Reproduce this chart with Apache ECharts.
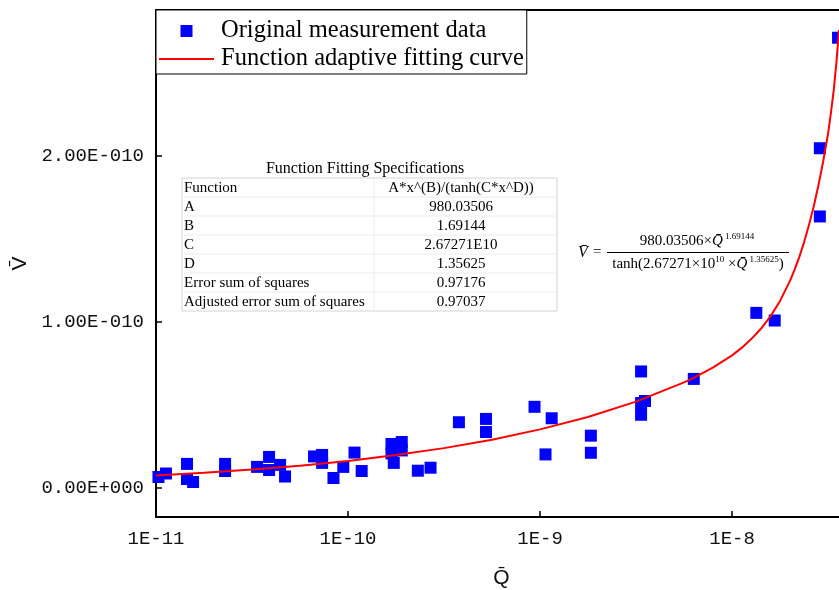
<!DOCTYPE html>
<html>
<head>
<meta charset="utf-8">
<script src="https://cdn.jsdelivr.net/npm/echarts@6/dist/echarts.min.js"></script>
<style>
html,body{margin:0;padding:0;background:#fff;}
#chart{width:839px;height:590px;}
</style>
</head>
<body>
<div id="chart"></div>
<script>
// Measured points (Q̄, V̄)
const measQ = [1.03e-11, 1.127e-11, 1.45e-11, 1.45e-11, 1.56e-11, 2.29e-11, 2.29e-11, 3.36e-11, 3.88e-11, 3.88e-11,
  4.43e-11, 4.70e-11, 6.65e-11, 7.33e-11, 7.33e-11, 8.4e-11, 9.45e-11, 1.081e-10, 1.178e-10, 1.684e-10,
  1.684e-10, 1.905e-10, 1.905e-10, 1.731e-10, 2.31e-10, 2.69e-10, 3.78e-10, 5.23e-10, 5.23e-10, 9.36e-10,
  1.15e-9, 1.068e-9, 1.84e-9, 1.84e-9, 3.36e-9, 3.36e-9, 3.52e-9, 3.36e-9, 6.32e-9, 1.338e-8,
  1.668e-8, 2.866e-8, 2.866e-8, 3.565e-8];
const measV = [6.6e-12, 8.7e-12, 1.45e-11, 5.4e-12, 3.6e-12, 1.45e-11, 1.02e-11, 1.27e-11, 1.87e-11, 1.08e-11,
  1.39e-11, 6.9e-12, 1.9e-11, 1.99e-11, 1.51e-11, 6.0e-12, 1.27e-11, 2.13e-11, 1.02e-11, 2.65e-11,
  2.08e-11, 2.77e-11, 2.26e-11, 1.51e-11, 1.04e-11, 1.22e-11, 3.96e-11, 4.16e-11, 3.37e-11, 4.89e-11,
  4.2e-11, 2.02e-11, 3.15e-11, 2.12e-11, 7.02e-11, 5.12e-11, 5.24e-11, 4.41e-11, 6.57e-11, 1.055e-10,
  1.009e-10, 2.047e-10, 1.636e-10, 2.713e-10];

// Fitted curve
const curveQ = [1e-11, 1.778e-11, 3.162e-11, 5.623e-11, 1e-10, 1.778e-10, 3.162e-10, 5.623e-10, 1e-9, 1.778e-9,
  3.162e-9, 5.623e-9, 6.31e-9, 7.943e-9, 1e-8, 1.122e-8, 1.259e-8, 1.413e-8, 1.585e-8, 1.778e-8,
  1.995e-8, 2.113e-8, 2.239e-8, 2.371e-8, 2.512e-8, 2.661e-8, 2.818e-8, 2.985e-8, 3.162e-8, 3.273e-8,
  3.388e-8, 3.50e-8, 3.606e-8];
const curveV = [7.54e-12, 9.15e-12, 1.108e-11, 1.345e-11, 1.63e-11, 1.98e-11, 2.40e-11, 2.91e-11, 3.53e-11, 4.28e-11,
  5.20e-11, 6.36e-11, 6.63e-11, 7.25e-11, 7.99e-11, 8.44e-11, 8.97e-11, 9.59e-11, 1.034e-10, 1.127e-10,
  1.243e-10, 1.313e-10, 1.391e-10, 1.48e-10, 1.581e-10, 1.694e-10, 1.824e-10, 1.969e-10, 2.134e-10, 2.26e-10,
  2.40e-10, 2.57e-10, 2.76e-10];

// Ticks
const xTickValues = [1e-11, 1e-10, 1e-9, 1e-8];
const xTickLabels = ['1E-11', '1E-10', '1E-9', '1E-8'];
const yTickValues = [0, 1e-10, 2e-10];
const yTickLabels = ['0.00E+000', '1.00E-010', '2.00E-010'];

// Table text
const tableTitle = 'Function Fitting Specifications';
const tableNames = ['Function', 'A', 'B', 'C', 'D', 'Error sum of squares', 'Adjusted error sum of squares'];
const tableValues = ['A*x^(B)/(tanh(C*x^D))', '980.03506', '1.69144', '2.67271E10', '1.35625', '0.97176', '0.97037'];

const seriesNames = ['Original measurement data', 'Function adaptive fitting curve'];

const chart = echarts.init(document.getElementById('chart'), null, {renderer: 'canvas'});

const tblL = 182, tblR = 557, tblMid = 374, tblTop = 178, rowH = 19;
const graphics = [];
graphics.push({type: 'text', style: {text: tableTitle, x: 365, y: 169, align: 'center', verticalAlign: 'middle',
  font: '16px "Liberation Serif"', fill: '#000'}});
graphics.push({type: 'rect', shape: {x: tblL, y: tblTop, width: tblR - tblL, height: rowH * tableNames.length},
  style: {fill: 'none', stroke: '#d4d4d4', lineWidth: 1}});
for (let i = 1; i < tableNames.length; i++) {
  graphics.push({type: 'line', shape: {x1: tblL, y1: tblTop + rowH * i, x2: tblR, y2: tblTop + rowH * i},
    style: {stroke: '#ececec', lineWidth: 1}});
}
graphics.push({type: 'line', shape: {x1: tblMid, y1: tblTop, x2: tblMid, y2: tblTop + rowH * tableNames.length},
  style: {stroke: '#ececec', lineWidth: 1}});
tableNames.forEach((n, i) => {
  graphics.push({type: 'text', style: {text: n, x: tblL + 2, y: tblTop + rowH * i + rowH / 2 + 1, align: 'left', verticalAlign: 'middle',
    font: '15px "Liberation Serif"', fill: '#000'}});
  graphics.push({type: 'text', style: {text: tableValues[i], x: 461, y: tblTop + rowH * i + rowH / 2 + 1, align: 'center', verticalAlign: 'middle',
    font: '15px "Liberation Serif"', fill: '#000'}});
});
// Formula
const fRich = {
  q: {fontFamily: 'Liberation Serif', fontSize: 15, fontStyle: 'italic', color: '#000'},
  s: {fontFamily: 'Liberation Serif', fontSize: 9, verticalAlign: 'top', color: '#000', padding: [0, 0, 8, 0]},
  n: {fontFamily: 'Liberation Serif', fontSize: 15, color: '#000'}
};
graphics.push({type: 'text', style: {text: 'V\u0304', x: 578, y: 253, align: 'left', verticalAlign: 'middle',
  font: 'italic 16px "Liberation Serif"', fill: '#000'}});
graphics.push({type: 'text', style: {text: '=', x: 593, y: 252, align: 'left', verticalAlign: 'middle',
  font: '15px "Liberation Serif"', fill: '#000'}});
graphics.push({type: 'line', shape: {x1: 607, y1: 252.5, x2: 789, y2: 252.5}, style: {stroke: '#000', lineWidth: 1}});
graphics.push({type: 'text', style: {text: '{n|980.03506\u00d7}{q|Q\u0304}{s| 1.69144}', rich: fRich, x: 697, y: 241,
  align: 'center', verticalAlign: 'middle', font: '15px "Liberation Serif"', fill: '#000'}});
graphics.push({type: 'text', style: {text: '{n|tanh(2.67271\u00d710}{s|10}{n| \u00d7}{q|Q\u0304}{s| 1.35625}{n|)}', rich: fRich, x: 698, y: 264,
  align: 'center', verticalAlign: 'middle', font: '15px "Liberation Serif"', fill: '#000'}});

const option = {
  animation: false,
  backgroundColor: '#ffffff',
  grid: {left: 156, right: 0, top: 10, bottom: 73, containLabel: false, outerBoundsMode: 'none'},
  legend: {
    orient: 'vertical', left: 156, top: 10,
    padding: [8, 3, 2, 3], itemGap: 2,
    itemWidth: 55, itemHeight: 12,
    symbolKeepAspect: true,
    borderColor: '#000', borderWidth: 1,
    backgroundColor: '#fff',
    data: [
      {name: seriesNames[0], icon: 'path://M0,0h10v10h-10z'},
      {name: seriesNames[1], icon: 'path://M0,0h110v4h-110z'}
    ],
    textStyle: {fontFamily: 'Liberation Serif', fontSize: 24.5, color: '#000', lineHeight: 26, padding: [0, 0, 0, 2]}
  },
  xAxis: [{
    type: 'log', logBase: 10, min: 1e-11, max: 3.606e-8,
    position: 'bottom',
    axisLine: {onZero: false, lineStyle: {color: '#000', width: 2}},
    axisTick: {inside: true, length: 6, lineStyle: {color: '#000', width: 1.5}},
    minorTick: {show: false},
    splitLine: {show: false},
    axisLabel: {
      margin: 12, showMaxLabel: false,
      fontFamily: 'Liberation Mono', fontSize: 19, color: '#111',
      formatter: function (v) {
        const lg = Math.log10(v);
        const e = Math.round(lg);
        if (Math.abs(lg - e) > 1e-6) return '';
        const idx = xTickValues.findIndex(t => Math.abs(Math.log10(t) - e) < 1e-6);
        return idx >= 0 ? xTickLabels[idx] : '';
      }
    },
    name: 'Q\u0304', nameLocation: 'middle', nameGap: 51,
    nameTextStyle: {fontFamily: 'Liberation Sans', fontSize: 21, color: '#111', padding: [0, 0, 0, 8]}
  }, {
    type: 'value', min: 0, max: 1, position: 'top',
    axisLine: {show: true, onZero: false, lineStyle: {color: '#000', width: 2}},
    axisTick: {show: false}, axisLabel: {show: false}, splitLine: {show: false}
  }],
  yAxis: {
    type: 'value', min: -1.75e-11, max: 2.880e-10,
    axisLine: {show: true, onZero: false, lineStyle: {color: '#000', width: 2}},
    axisTick: {show: true, inside: true, length: 6, customValues: yTickValues, lineStyle: {color: '#000', width: 1.5}},
    splitLine: {show: false},
    axisLabel: {
      customValues: yTickValues, margin: 12,
      fontFamily: 'Liberation Mono', fontSize: 19, color: '#111',
      formatter: function (v) {
        const idx = yTickValues.findIndex(t => Math.abs(t - v) < 1e-14);
        return idx >= 0 ? yTickLabels[idx] : '';
      }
    },
    name: 'V\u0304', nameLocation: 'middle', nameRotate: 90, nameGap: 111,
    nameTextStyle: {fontFamily: 'Liberation Sans', fontSize: 21, color: '#111'}
  },
  series: [{
    name: seriesNames[0], type: 'scatter', xAxisIndex: 0,
    symbol: 'rect', symbolSize: 12,
    itemStyle: {color: '#0000ff', opacity: 1},
    data: measQ.map((q, i) => [q, measV[i]])
  }, {
    name: seriesNames[1], type: 'line', xAxisIndex: 0,
    symbol: 'none', smooth: false,
    lineStyle: {color: '#ff0000', width: 2},
    itemStyle: {color: '#ff0000'},
    data: curveQ.map((q, i) => [q, curveV[i]])
  }],
  graphic: graphics
};
chart.setOption(option);
</script>
</body>
</html>
